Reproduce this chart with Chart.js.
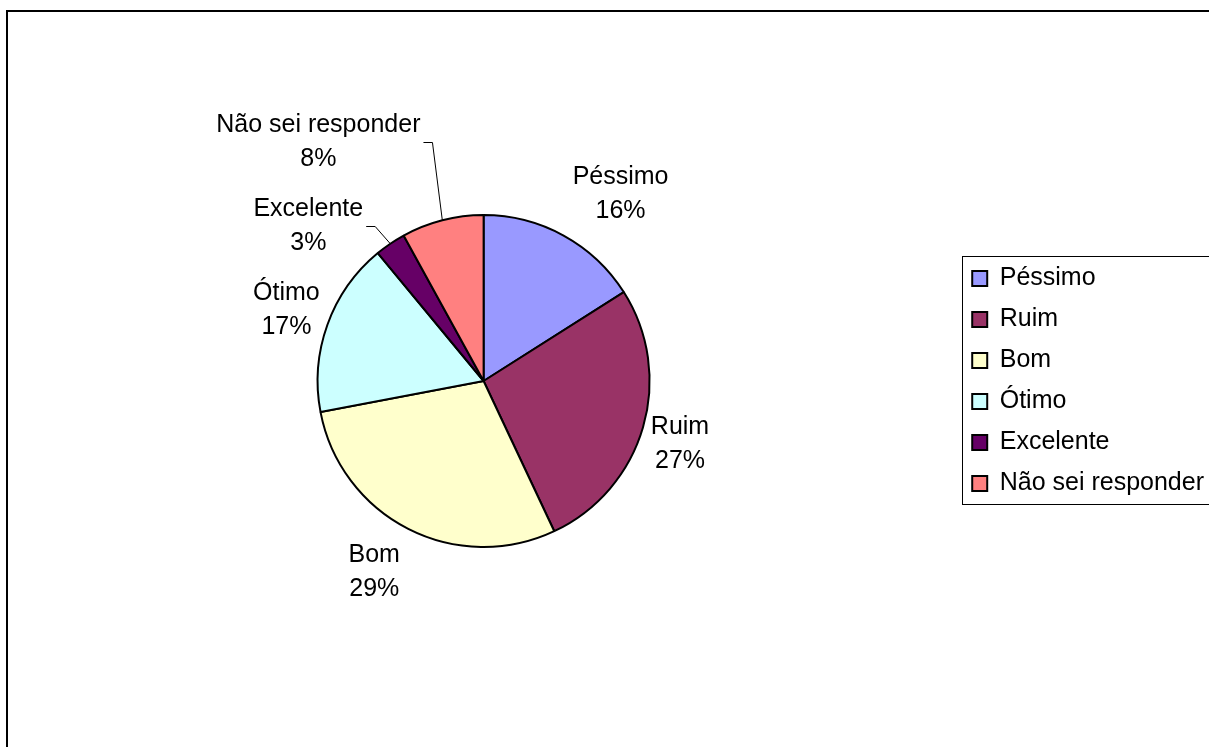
<!DOCTYPE html>
<html lang="pt">
<head>
<meta charset="utf-8">
<title>Avaliação</title>
<script src="https://cdn.jsdelivr.net/npm/chart.js@4/dist/chart.umd.min.js"></script>
<style>
  html, body { margin: 0; padding: 0; background: #fff; overflow: hidden; }
  #frame { position: absolute; left: 6px; top: 10px; width: 1230px; height: 740px; border: 2px solid #000; }
  #pieChart { display: block; }
</style>
</head>
<body>
<div id="frame"><canvas id="pieChart" width="1230" height="740"></canvas></div>
<script>
'use strict';

const categories = ['Péssimo', 'Ruim', 'Bom', 'Ótimo', 'Excelente', 'Não sei responder'];
const percentages = [16, 27, 29, 17, 3, 8];
const sliceColors = ['#9999ff', '#993366', '#ffffcc', '#ccffff', '#660066', '#ff8080'];

// two-line labels sit at this offset from the rim point in the middle of their slice
const labelOffsets = [[57, -41], [37, 17], [-34, 43], [-41, -15], [-82, -18], [-124, -78]];

const FONT = '"Liberation Sans", Arial, sans-serif';
const FONT_SIZE = 25;
const LINE_GAP = 34;

// name + percentage outside each slice, with a leader line for the thin ones
const sliceLabels = {
    id: 'sliceLabels',
    afterDatasetsDraw(chart) {
        const ctx = chart.ctx;
        const meta = chart.getDatasetMeta(0);
        ctx.save();
        ctx.font = `${FONT_SIZE}px ${FONT}`;
        ctx.fillStyle = '#000';
        ctx.strokeStyle = '#000';
        ctx.lineWidth = 1;
        ctx.textAlign = 'center';
        ctx.textBaseline = 'middle';
        meta.data.forEach((arc, i) => {
            const { x, y, startAngle, endAngle, outerRadius } =
                arc.getProps(['x', 'y', 'startAngle', 'endAngle', 'outerRadius'], true);
            const mid = (startAngle + endAngle) / 2;
            const rimX = x + Math.cos(mid) * outerRadius;
            const rimY = y + Math.sin(mid) * outerRadius;
            const cx = rimX + labelOffsets[i][0];
            const cy = rimY + labelOffsets[i][1];
            const lines = [categories[i], percentages[i] + '%'];
            ctx.fillText(lines[0], cx, cy - LINE_GAP / 2);
            ctx.fillText(lines[1], cx, cy + LINE_GAP / 2);

            if (percentages[i] < 10) {
                const half = Math.max(...lines.map(t => ctx.measureText(t).width)) / 2;
                const ly = Math.round(cy) + 0.5;
                ctx.beginPath();
                ctx.moveTo(cx + half + 3, ly);
                ctx.lineTo(cx + half + 12, ly);
                ctx.lineTo(rimX, rimY);
                ctx.stroke();
            }
        });
        ctx.restore();
    }
};

// thin box around the legend entries
const legendFrame = {
    id: 'legendFrame',
    afterDraw(chart) {
        const boxes = chart.legend && chart.legend.legendHitBoxes;
        if (!boxes || !boxes.length) return;
        const left = Math.min(...boxes.map(b => b.left)) - 10;
        const right = Math.max(...boxes.map(b => b.left + b.width)) + 14;
        const top = boxes[0].top - 10;
        const last = boxes[boxes.length - 1];
        const bottom = last.top + last.height + 8;
        const ctx = chart.ctx;
        ctx.save();
        ctx.strokeStyle = '#000';
        ctx.lineWidth = 1;
        ctx.strokeRect(Math.round(left) + 0.5, Math.round(top) + 0.5,
            Math.round(right - left), Math.round(bottom - top));
        ctx.restore();
    }
};

Chart.defaults.font.family = FONT;
Chart.defaults.color = '#000';

new Chart(document.getElementById('pieChart'), {
    type: 'pie',
    data: {
        labels: categories,
        datasets: [{
            data: percentages,
            backgroundColor: sliceColors,
            borderColor: '#000',
            borderWidth: 2,
            radius: 166
        }]
    },
    options: {
        responsive: false,
        animation: false,
        events: [],
        layout: { padding: { left: 3, right: 24, top: 0, bottom: 2 } },
        plugins: {
            tooltip: { enabled: false },
            legend: {
                position: 'right',
                labels: {
                    font: { size: FONT_SIZE, family: FONT },
                    color: '#000',
                    boxWidth: 15,
                    boxHeight: 15,
                    padding: 16
                }
            }
        }
    },
    plugins: [sliceLabels, legendFrame]
});
</script>
</body>
</html>
